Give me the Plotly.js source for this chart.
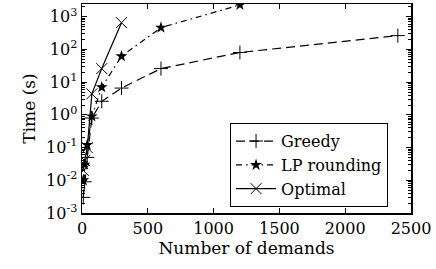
<!DOCTYPE html>
<html><head><meta charset="utf-8">
<script src="https://cdn.plot.ly/plotly-3.0.1.min.js"></script>
<style>html,body{margin:0;padding:0;background:#fff;}#c{width:436px;height:269px;}</style>
</head><body><div id="c"></div>
<script>
const greedyX = [10, 20, 40, 75, 150, 300, 600, 1200, 2400];
const greedyY = [0.003, 0.009, 0.05, 0.8, 2.6, 6.6, 26, 81, 265];
const lpX = [10, 20, 40, 75, 150, 300, 600, 1200];
const lpY = [0.01, 0.03, 0.12, 0.9, 7, 62, 465, 2300];
const optX = [10, 20, 40, 75, 150, 300];
const optY = [0.02, 0.04, 0.1, 4.4, 26, 660];
const xTicks = [0, 500, 1000, 1500, 2000, 2500];
const yExps = [-3, -2, -1, 0, 1, 2, 3];

const yTickVals = yExps.map(e => Math.pow(10, e));
const yTickText = yExps.map(e => '10<sup>' + e + '</sup>');
const yMinorLog = [];
for (let e = -3; e <= 3; e++) for (let m = 2; m <= 9; m++) yMinorLog.push(e + Math.log10(m));

const fam = 'DejaVu Serif, Liberation Serif, serif';
const tickFont = {family: fam, size: 16, color: '#000'};
const titleFont = {family: fam, size: 17, color: '#000'};
const yRange = [-3, 3.39];
const traces = [
  {x: greedyX, y: greedyY, name: 'Greedy', mode: 'lines+markers',
   line: {color: '#000', width: 1.2, dash: '9px,5px'},
   marker: {symbol: 'cross-thin-open', size: 10, color: '#000', line: {color: '#000', width: 1}}},
  {x: lpX, y: lpY, name: 'LP rounding', mode: 'lines+markers',
   line: {color: '#000', width: 1.2, dash: '6px,4px,1.5px,4px'},
   marker: {symbol: 'star', size: 9, color: '#000', line: {color: '#000', width: 0}}},
  {x: optX, y: optY, name: 'Optimal', mode: 'lines+markers',
   line: {color: '#000', width: 1.2},
   marker: {symbol: 'x-thin-open', size: 11, color: '#000', line: {color: '#000', width: 1}}},
  {x: [xTicks[1]], y: [0], yaxis: 'y2', showlegend: false, hoverinfo: 'skip', mode: 'markers',
   marker: {opacity: 0, size: 1}}
];
const layout = {
  width: 436, height: 269,
  margin: {l: 82, r: 25, t: 4, b: 56},
  paper_bgcolor: '#fff', plot_bgcolor: '#fff',
  font: tickFont,
  showlegend: true,
  legend: {x: 0.45, y: 0.43, xanchor: 'left', yanchor: 'top',
    bordercolor: '#000', borderwidth: 1, bgcolor: '#fff',
    font: tickFont, tracegroupgap: 0, itemwidth: 40},
  xaxis: {range: [0, 2500], tickvals: xTicks, ticktext: xTicks.map(String),
    ticks: 'inside', ticklen: 5, tickcolor: '#000', showgrid: false, zeroline: false,
    showline: true, linecolor: '#000', linewidth: 1.5, mirror: 'ticks',
    tickfont: tickFont,
    title: {text: 'Number of demands', font: titleFont, standoff: 4}},
  yaxis: {type: 'log', range: yRange, tickmode: 'array', tickvals: yTickVals, ticktext: yTickText,
    ticks: 'inside', ticklen: 5, tickcolor: '#000', showgrid: false, zeroline: false,
    showline: true, linecolor: '#000', linewidth: 1.5, mirror: 'ticks',
    tickfont: tickFont,
    title: {text: 'Time (s)', font: titleFont, standoff: 6}},
  yaxis2: {type: 'linear', range: yRange, autorange: false, overlaying: 'y', side: 'left', anchor: 'x',
    tickmode: 'array', tickvals: yMinorLog,
    ticks: 'inside', ticklen: 3, tickwidth: 1, tickcolor: '#000', showticklabels: false, showgrid: false,
    zeroline: false, showline: true, linewidth: 1, linecolor: '#000', mirror: 'ticks'}
};
Plotly.newPlot('c', traces, layout, {displayModeBar: false, staticPlot: true});
</script></body></html>
